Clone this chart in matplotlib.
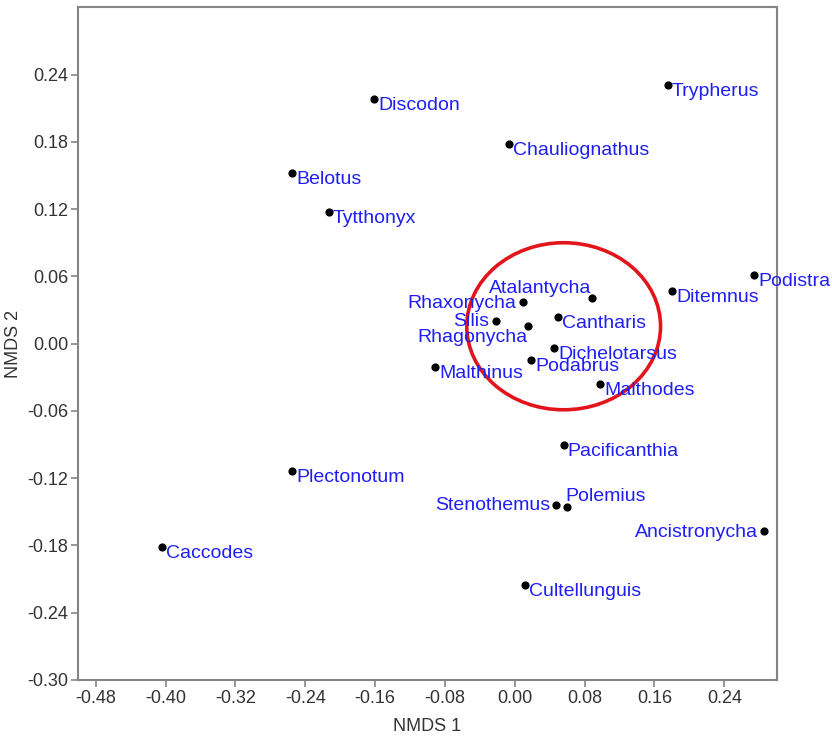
import matplotlib.pyplot as plt
from matplotlib.patches import Ellipse

plt.rcParams['font.family'] = ['Liberation Sans', 'DejaVu Sans']

# NMDS scores per genus
genera = ['Discodon', 'Trypherus', 'Chauliognathus', 'Belotus', 'Tytthonyx',
          'Podistra', 'Ditemnus', 'Atalantycha', 'Rhaxonycha', 'Silis',
          'Rhagonycha', 'Cantharis', 'Dichelotarsus', 'Podabrus', 'Malthinus',
          'Malthodes', 'Pacificanthia', 'Plectonotum', 'Stenothemus', 'Polemius',
          'Ancistronycha', 'Caccodes', 'Cultellunguis']
nmds1 = [-0.161, 0.175, -0.007, -0.255, -0.213,
         0.274, 0.180, 0.088, 0.009, -0.022,
         0.015, 0.049, 0.045, 0.019, -0.091,
         0.098, 0.056, -0.255, 0.047, 0.060,
         0.285, -0.404, 0.012]
nmds2 = [0.218, 0.231, 0.178, 0.152, 0.117,
         0.061, 0.047, 0.041, 0.037, 0.020,
         0.016, 0.024, -0.004, -0.015, -0.021,
         -0.036, -0.090, -0.114, -0.144, -0.146,
         -0.167, -0.181, -0.215]

xticks = [-0.48, -0.40, -0.32, -0.24, -0.16, -0.08, 0.00, 0.08, 0.16, 0.24]
yticks = [-0.30, -0.24, -0.18, -0.12, -0.06, 0.00, 0.06, 0.12, 0.18, 0.24]

# label placement (offset in pixels, horizontal alignment)
default_pos = ((4, -11), 'left')
label_pos = {
    'Rhaxonycha': ((-6, -6), 'right'),
    'Silis': ((-6, -5), 'right'),
    'Stenothemus': ((-6, -5), 'right'),
    'Ancistronycha': ((-6, -6), 'right'),
    'Atalantycha': ((0, 5), 'right'),
    'Rhagonycha': ((0, -16), 'right'),
    'Polemius': ((-2, 6), 'left'),
}

fig = plt.figure(figsize=(8.32, 7.36), dpi=100)
ax = fig.add_axes([0.0941, 0.0761, 0.8394, 0.914])

ax.scatter(nmds1, nmds2, s=24, color='black', zorder=3)

for name, x, y in zip(genera, nmds1, nmds2):
    off, ha = label_pos.get(name, default_pos)
    ax.annotate(name, (x, y), xytext=off, textcoords='offset pixels',
                ha=ha, va='baseline', fontsize=14, color='#1e1ef5',
                zorder=4)

# cluster outline
ax.add_patch(Ellipse((0.056, 0.0155), 0.222, 0.149, fill=False,
                     edgecolor='#e3151c', linewidth=2.6, zorder=2))

ax.set_xlim(-0.50, 0.30)
ax.set_ylim(-0.30, 0.30)
ax.set_xticks(xticks)
ax.set_yticks(yticks)
ax.set_xticklabels(['%.2f' % t for t in xticks])
ax.set_yticklabels(['%.2f' % t for t in yticks])

for sp in ax.spines.values():
    sp.set_color('#858585')
    sp.set_linewidth(1.5)
ax.tick_params(direction='out', length=5, width=1.2, color='#858585',
               labelsize=13, labelcolor='#333333', pad=2)

ax.set_xlabel('NMDS 1', fontsize=13, color='#333333', labelpad=8)
ax.set_ylabel('NMDS 2', fontsize=13, color='#333333', labelpad=4)

fig.savefig('out.png', dpi=100)
